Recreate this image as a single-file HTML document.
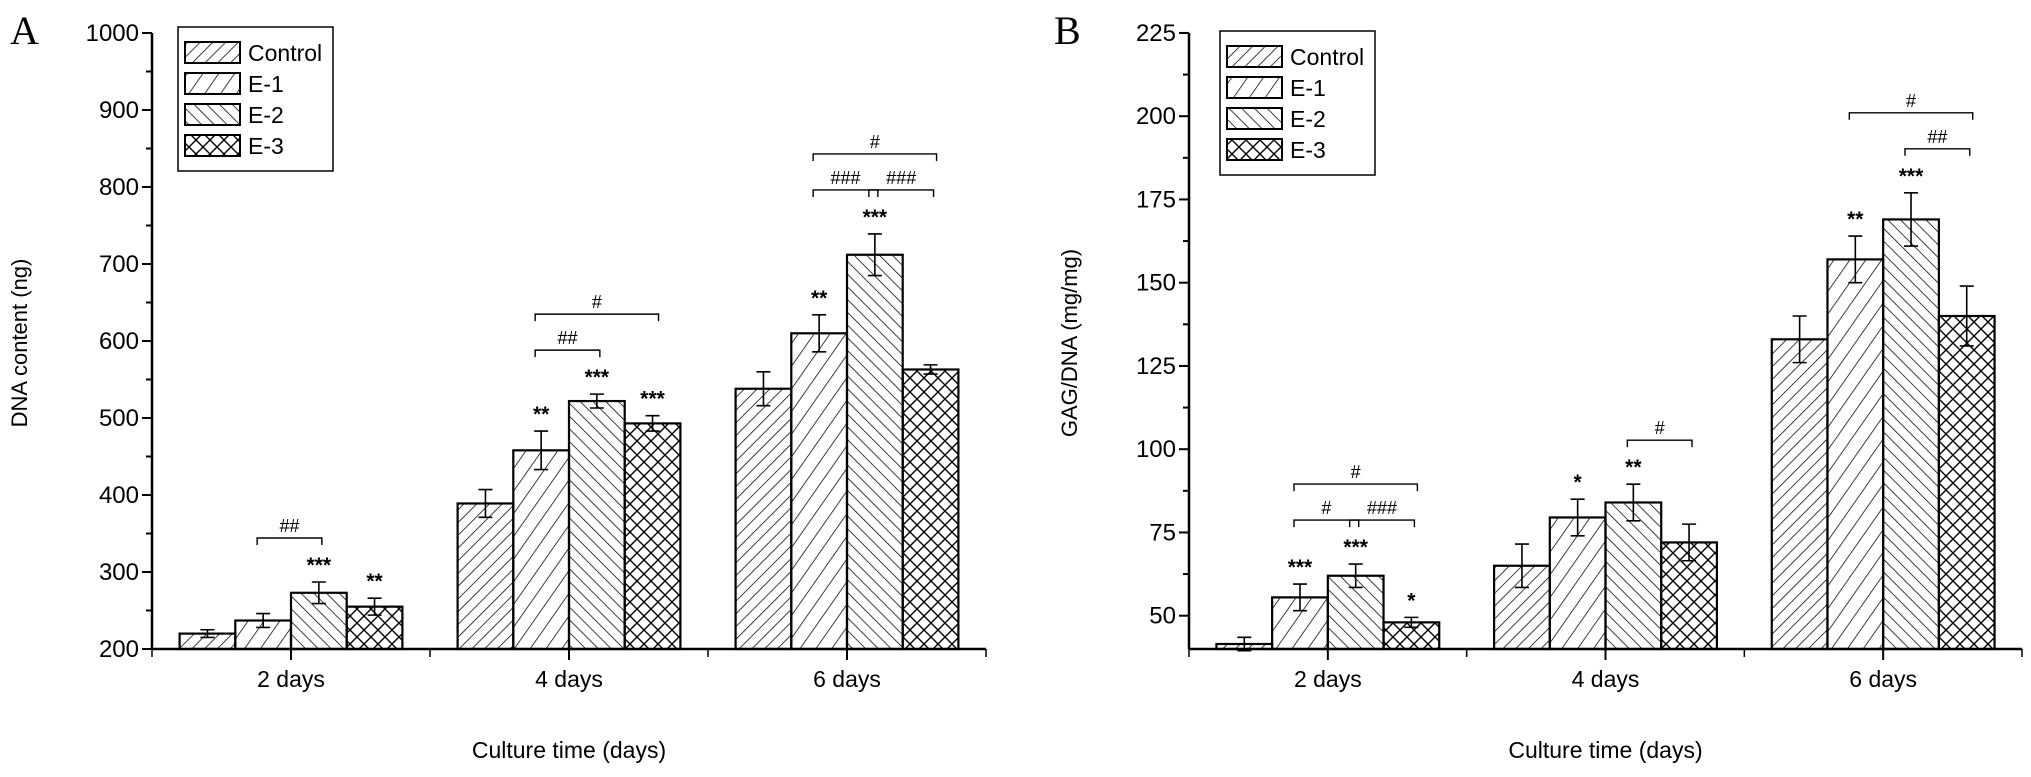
<!DOCTYPE html>
<html><head><meta charset="utf-8"><style>
html,body{margin:0;padding:0;background:#fff;}
svg{display:block;font-family:"Liberation Sans",Arial,sans-serif;}
</style></head><body>
<svg id="chart" width="2031" height="777" viewBox="0 0 2031 777" xmlns="http://www.w3.org/2000/svg">
<defs>
<pattern id="p0" patternUnits="userSpaceOnUse" width="9" height="9" patternTransform="rotate(45)"><line x1="0" y1="0" x2="0" y2="9" stroke="#000" stroke-width="1.5"/></pattern>
<pattern id="p1" patternUnits="userSpaceOnUse" width="13" height="13" patternTransform="rotate(35)"><line x1="0" y1="0" x2="0" y2="13" stroke="#000" stroke-width="1.5"/></pattern>
<pattern id="p2" patternUnits="userSpaceOnUse" width="9" height="9" patternTransform="rotate(-45)"><line x1="0" y1="0" x2="0" y2="9" stroke="#000" stroke-width="1.5"/></pattern>
<pattern id="p3" patternUnits="userSpaceOnUse" width="14" height="14"><path d="M0,0L14,14M14,0L0,14" stroke="#000" stroke-width="1.4"/></pattern>
</defs>
</svg>
<script>
const categories = ["2 days","4 days","6 days"];
const seriesNames = ["Control","E-1","E-2","E-3"];
const dnaValues = [[220,389,538],[237,458,610],[273,522,712],[255,493,563]];
const dnaErrors = [[5,18,22],[9,25,24],[14,9,27],[11,10,6]];
const dnaTicks = [200,300,400,500,600,700,800,900,1000];
const dnaStars = [["","",""],["","**","**"],["***","***","***"],["**","***",""]];
const dnaBrackets = [[0,1,2,"##",0],[1,1,2,"##",0],[1,1,3,"#",1],[2,1,2,"###",0],[2,2,3,"###",0],[2,1,3,"#",1]];
const gagValues = [[41.5,65,133],[55.5,79.5,157],[62,84,169],[48,72,140]];
const gagErrors = [[2,6.5,7],[4,5.5,7],[3.5,5.5,8],[1.5,5.5,9]];
const gagTicks = [50,75,100,125,150,175,200,225];
const gagStars = [["","",""],["***","*","**"],["***","**","***"],["*","",""]];
const gagBrackets = [[0,1,2,"#",0],[0,2,3,"###",0],[0,1,3,"#",1],[1,2,3,"#",0],[2,2,3,"##",0],[2,1,3,"#",1]];

const NS="http://www.w3.org/2000/svg";
const svg=document.getElementById('chart');
function mk(tag,attrs,parent){const e=document.createElementNS(NS,tag);for(const k in attrs)e.setAttribute(k,attrs[k]);(parent||svg).appendChild(e);return e;}

function panel(o){
  const g=mk('g',{});
  
  
  const y=v=>o.y0-(v-o.vmin)*o.k;
  const gw=(o.x1-o.x0)/3, bw=55.7, pad=(gw-4*bw)/2;
  const bx=(c,s)=>o.x0+c*gw+pad+s*bw;
  const bTop=(c,s)=>y(o.vals[s][c]+o.errs[s][c]);
  for(let s=0;s<4;s++)for(let c=0;c<3;c++){
    const v=o.vals[s][c],e=o.errs[s][c],x=bx(c,s),cx=x+bw/2;
    const r=mk('rect',{x:x,y:y(v),width:bw,height:o.y0-y(v),fill:'url(#p'+s+')',stroke:'#000','stroke-width':2.2},g);
    
    
    const eb=mk('path',{d:`M${cx},${y(v+e)}V${y(v-e)}M${cx-7},${y(v+e)}H${cx+7}M${cx-7},${y(v-e)}H${cx+7}`,stroke:'#000','stroke-width':1.6,fill:'none'},g);
    
    
    if(o.stars[s][c]){
      const t=mk('text',{x:cx,y:y(v+e)-10,'text-anchor':'middle','font-size':21,'font-weight':'bold'},g);
      t.textContent=o.stars[s][c];
      
      
    }
  }
  o.brackets.forEach(b=>{
    const [c,s1,s2,lab,lvl]=b;
    let top=Infinity;for(let s=s1;s<=s2;s++)top=Math.min(top,bTop(c,s));
    const by=top-44-lvl*36;
    const xa=bx(c,s1)+bw/2-6, xb=bx(c,s2)+bw/2+(s2-s1==1?3:6);
    const p=mk('path',{d:`M${xa},${by+7}V${by}H${xb}V${by+7}`,stroke:'#000','stroke-width':1.4,fill:'none'},g);
    
    
    const t=mk('text',{x:(xa+xb)/2,y:by-6,'text-anchor':'middle','font-size':18},g);
    t.textContent=lab;
    
    
  });
  const ax=mk('path',{d:`M${o.x0},${o.y0}V${y(o.ticks[o.ticks.length-1])}M${o.x0},${o.y0}H${o.x1}`,stroke:'#000','stroke-width':2.5,fill:'none'},g);
  
  
  o.ticks.forEach((v,i)=>{
    mk('line',{x1:o.x0-10,x2:o.x0,y1:y(v),y2:y(v),stroke:'#000','stroke-width':2},g);
    if(i<o.ticks.length-1){const m=(v+o.ticks[i+1])/2;mk('line',{x1:o.x0-6,x2:o.x0,y1:y(m),y2:y(m),stroke:'#000','stroke-width':2},g);}
    const t=mk('text',{x:o.x0-13,y:y(v)+8,'text-anchor':'end','font-size':24},g);
    t.textContent=v;
    
    
  });
  for(let c=0;c<3;c++){
    const cx=o.x0+(c+0.5)*gw;
    mk('line',{x1:cx,x2:cx,y1:o.y0,y2:o.y0+11,stroke:'#000','stroke-width':2},g);
    const t=mk('text',{x:cx,y:o.y0+38,'text-anchor':'middle','font-size':23},g);
    t.textContent=categories[c];
    
    
  }
  for(let c=0;c<=3;c++){const sx=o.x0+c*gw;mk('line',{x1:sx,x2:sx,y1:o.y0,y2:o.y0+8,stroke:'#000','stroke-width':1.5},g);}
  let t=mk('text',{x:(o.x0+o.x1)/2,y:758,'text-anchor':'middle','font-size':23},g);
  t.textContent='Culture time (days)';
  
  
  t=mk('text',{x:0,y:0,'text-anchor':'middle','font-size':22,transform:`translate(${o.ytx},343) rotate(-90)`},g);
  t.textContent=o.ytitle;
  
  
  t=mk('text',{x:o.lx,y:44,'font-size':40,'font-family':'"Liberation Serif",serif'},g);
  t.textContent=o.letter;
  
  
  const lg=mk('g',{},g);
  
  
  mk('rect',{x:o.legx,y:o.legy,width:155,height:144,fill:'#fff',stroke:'#000','stroke-width':1.5},lg);
  seriesNames.forEach((n,s)=>{
    const ry=o.legy+15+s*31;
    const r=mk('rect',{x:o.legx+7,y:ry,width:55,height:21,fill:'url(#p'+s+')',stroke:'#000','stroke-width':2},lg);
    
    
    const tt=mk('text',{x:o.legx+70,y:ry+19,'font-size':23},lg);
    tt.textContent=n;
    
    
  });
}
panel({name:'panel-a-dna',x0:152,x1:986,y0:649,vmin:200,k:0.77,vals:dnaValues,errs:dnaErrors,ticks:dnaTicks,stars:dnaStars,brackets:dnaBrackets,ytitle:'DNA content (ng)',ytx:27,letter:'A',lx:10,legx:178,legy:27});
panel({name:'panel-b-gag',x0:1189,x1:2022,y0:649,vmin:40,k:3.33,vals:gagValues,errs:gagErrors,ticks:gagTicks,stars:gagStars,brackets:gagBrackets,ytitle:'GAG/DNA (mg/mg)',ytx:1077,letter:'B',lx:1054,legx:1220,legy:31});
</script>
</body></html>
